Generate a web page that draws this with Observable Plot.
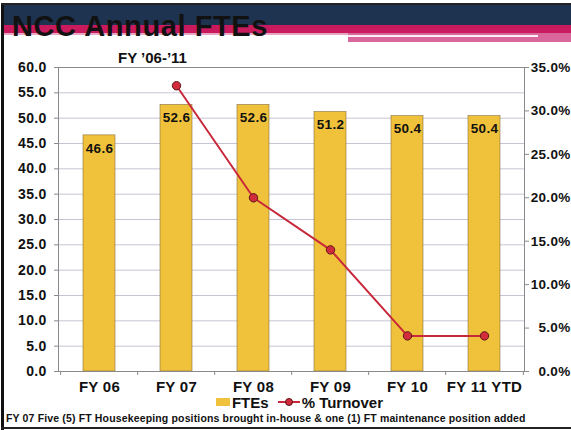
<!DOCTYPE html>
<html>
<head>
<meta charset="utf-8">
<script src="https://cdn.jsdelivr.net/npm/d3@7"></script>
<script src="https://cdn.jsdelivr.net/npm/@observablehq/plot@0.6"></script>
<style>
  body { margin: 0; background: #fff; }
  #wrap { position: relative; width: 571px; height: 430px; overflow: hidden; background: #fff;
          font-family: "Liberation Sans", Arial, sans-serif; color: #111; }
  #chart { position: absolute; left: 0; top: 0; }
  #chart svg text { letter-spacing: 0.3px; }
  .band { position: absolute; }
  #title { position: absolute; left: 12px; top: 10px; font-size: 29px; font-weight: bold; color: #111;
           letter-spacing: 0.6px; white-space: nowrap; }
  #subtitle { position: absolute; left: 118px; top: 49px; font-size: 15px; font-weight: bold; white-space: nowrap; }
  #legend { position: absolute; left: 0; width: 571px; top: 394px; height: 16px; font-size: 15px; font-weight: bold;
            display: flex; justify-content: center; align-items: center; padding-left: 28px; box-sizing: border-box; }
  #legend span.item { display: inline-flex; align-items: center; margin: 0 4px; }
  #note { position: absolute; left: 6px; top: 412px; font-size: 10.5px; font-weight: bold; white-space: nowrap; letter-spacing: 0.15px; }
  #frameL { position: absolute; left: 1px; top: 4px; width: 3px; height: 430px; background: #111; }
  #frameT { position: absolute; left: 1px; top: 3px; width: 571px; height: 2px; background: #222; }
  #frameB { position: absolute; left: 1px; top: 427px; width: 571px; height: 2px; background: #222; }
</style>
</head>
<body>
<div id="wrap">
  <div class="band" style="left:4px;top:5px;width:567px;height:20px;background:#1d3350;"></div>
  <div class="band" style="left:4px;top:25px;width:567px;height:8px;background:#c81a5c;"></div>
  <div class="band" style="left:4px;top:33px;width:344px;height:2px;background:#e7a7c2;"></div>
  <div class="band" style="left:348px;top:33px;width:223px;height:9px;background:#d9679c;"></div>
  <div class="band" style="left:348px;top:35px;width:190px;height:2px;background:#fbeef4;"></div>
  <div id="chart"></div>
  <div id="title">NCC Annual FTEs</div>
  <div id="subtitle">FY ’06-’11</div>
  <div id="legend"></div>
  <div id="note"></div>
  <div id="frameL"></div>
  <div id="frameT"></div>
  <div id="frameB"></div>
</div>
<script>
// ---- data ----
const categories = ["FY 06", "FY 07", "FY 08", "FY 09", "FY 10", "FY 11 YTD"];
const ftes = [46.6, 52.6, 52.6, 51.2, 50.4, 50.4];
const turnover = [null, 32.9, 20.0, 14.0, 4.1, 4.1]; // percent
const leftTicks = [0, 5, 10, 15, 20, 25, 30, 35, 40, 45, 50, 55, 60];
const rightTicks = [0, 5, 10, 15, 20, 25, 30, 35];
const seriesNames = ["FTEs", "% Turnover"];
const footnote = "FY 07 Five (5) FT Housekeeping positions brought in-house & one (1) FT maintenance position added";

// ---- build ----
const leftMax = 60, rightMax = 35;
const ratio = leftMax / rightMax;
const barData = categories.map((c, i) => ({cat: c, fte: ftes[i]}));
const turnData = categories.map((c, i) => ({cat: c, t: turnover[i]})).filter(d => d.t != null);

const W = 571, H = 400, mL = 58, mR = 47, mT = 67, mB = 29;
const step = (W - mL - mR) / categories.length;
const boundaryTicks = categories.map(c => ({cat: c, off: -step / 2}))
  .concat([{cat: categories[categories.length - 1], off: step / 2}]);

const colBar = "#f0c13a", colLine = "#c8283a";

const chart = Plot.plot({
  width: W, height: H,
  marginLeft: mL, marginRight: mR, marginTop: mT, marginBottom: mB,
  style: {fontFamily: "'Liberation Sans', Arial, sans-serif", color: "#111", background: "transparent"},
  x: {domain: categories, paddingInner: 0.59, paddingOuter: 0.295, axis: null},
  y: {domain: [0, leftMax], axis: null},
  marks: [
    Plot.gridY(leftTicks, {stroke: "#c6c4d4", strokeOpacity: 1, strokeWidth: 1}),
    Plot.barY(barData, {x: "cat", y: "fte", fill: colBar, stroke: "#857040", strokeWidth: 0.6}),
    Plot.text(barData, {x: "cat", y: "fte", text: d => d.fte.toFixed(1), dy: 13, fontSize: 13.5, fontWeight: "bold", fill: "#111"}),
    Plot.frame({stroke: "#8a8a8a", strokeWidth: 1}),
    ...boundaryTicks.map(b => Plot.ruleX([b], {x: "cat", dx: b.off, y1: 0, y2: -0.8, stroke: "#8a8a8a"})),
    Plot.line(turnData, {x: "cat", y: d => d.t * ratio, stroke: colLine, strokeWidth: 2}),
    Plot.dot(turnData, {x: "cat", y: d => d.t * ratio, r: 4.2, fill: "#d22c3c", stroke: "#5a1418", strokeWidth: 1}),
    Plot.axisY(leftTicks, {anchor: "left", tickFormat: d => d.toFixed(1), tickSize: 4, tickPadding: 8,
      fontSize: 14, fontWeight: "bold", stroke: "#8a8a8a", label: null}),
    Plot.axisY(rightTicks.map(t => t * ratio), {anchor: "right", tickFormat: d => (d / ratio).toFixed(1) + "%",
      tickSize: 4, tickPadding: 42, textAnchor: "end", fontSize: 13.5, fontWeight: "bold", stroke: "#8a8a8a", label: null}),
    Plot.axisX({anchor: "bottom", tickSize: 0, tickPadding: 10, fontSize: 15, fontWeight: "bold", label: null})
  ]
});
document.getElementById("chart").appendChild(chart);

// legend
const legend = document.getElementById("legend");
legend.innerHTML =
  `<span class="item"><svg width="14" height="8" style="margin-right:2px"><rect x="0" y="0" width="14" height="8" fill="${colBar}"/></svg>${seriesNames[0]}</span>` +
  `<span class="item"><svg width="24" height="10" style="margin-right:1px"><line x1="1" y1="5" x2="23" y2="5" stroke="${colLine}" stroke-width="2"/><circle cx="12" cy="5" r="3.5" fill="#d22c3c" stroke="#5a1418"/></svg>${seriesNames[1]}</span>`;
document.getElementById("note").textContent = footnote;
</script>
</body>
</html>
